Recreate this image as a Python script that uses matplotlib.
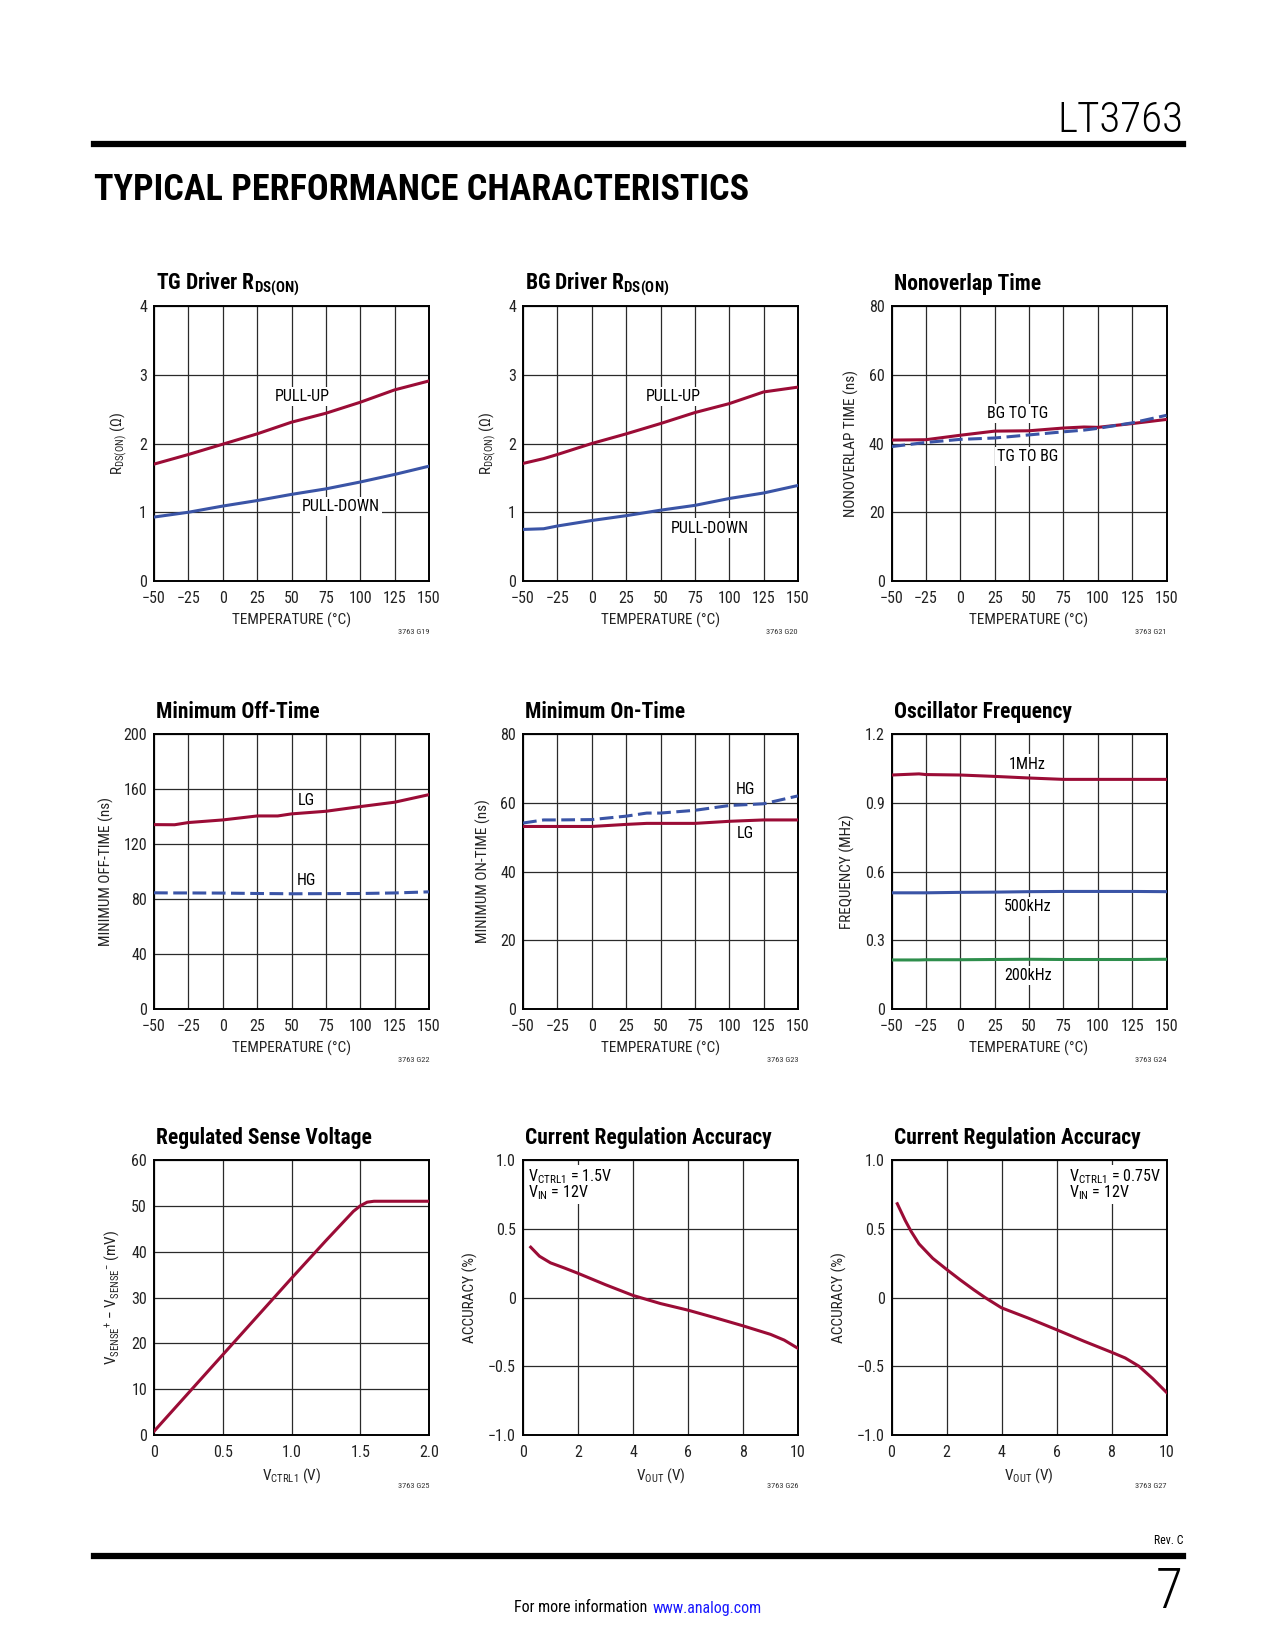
import matplotlib
matplotlib.use('Agg')
import matplotlib.pyplot as plt
from matplotlib.lines import Line2D
from matplotlib import font_manager

# datos (LT3763 pagina 7)

temp_tg = [-50, -25, 0, 25, 50, 75, 100, 125, 150]
tg_pullup = [1.70, 1.84, 1.99, 2.14, 2.31, 2.44, 2.60, 2.78, 2.91]
tg_pulldown = [0.93, 1.00, 1.09, 1.17, 1.26, 1.34, 1.44, 1.55, 1.67]

temp_bg = [-50, -35, -25, 0, 25, 50, 75, 100, 125, 150]
bg_pullup = [1.71, 1.78, 1.84, 2.00, 2.14, 2.29, 2.45, 2.58, 2.75, 2.82]
bg_pulldown = [0.75, 0.76, 0.80, 0.88, 0.95, 1.03, 1.10, 1.20, 1.28, 1.39]

temp_no = [-50, -25, 0, 25, 50, 75, 90, 100, 125, 150]
bg_to_tg = [41.0, 41.1, 42.4, 43.6, 43.7, 44.5, 44.8, 44.7, 45.8, 47.0]
tg_to_bg = [39.1, 40.3, 41.2, 41.6, 42.5, 43.4, 43.9, 44.4, 46.0, 48.2]

temp_off = [-50, -35, -25, 0, 25, 40, 50, 75, 100, 125, 150]
off_lg = [134.1, 134.0, 135.6, 137.5, 140.4, 140.4, 141.9, 143.8, 147.2, 150.4, 155.9]
off_hg = [84.5, 84.4, 84.4, 84.3, 84.0, 83.9, 83.8, 83.9, 84.0, 84.4, 85.2]

temp_on = [-50, -35, -25, 0, 25, 40, 50, 75, 100, 125, 150]
on_hg = [54.1, 55.0, 55.0, 55.1, 56.1, 57.0, 57.0, 57.8, 59.2, 59.7, 62.0]
on_lg = [53.1, 53.1, 53.1, 53.1, 53.7, 54.0, 54.0, 54.0, 54.6, 55.0, 55.0]

temp_osc = [-50, -30, -25, 0, 25, 50, 75, 100, 125, 150]
osc_1mhz = [1.021, 1.026, 1.023, 1.021, 1.015, 1.008, 1.002, 1.002, 1.002, 1.002]
osc_500k = [0.507, 0.507, 0.507, 0.509, 0.510, 0.512, 0.513, 0.513, 0.513, 0.512]
osc_200k = [0.214, 0.214, 0.215, 0.215, 0.216, 0.217, 0.216, 0.216, 0.216, 0.217]

vctrl = [0.0, 0.5, 1.0, 1.25, 1.4, 1.45, 1.5, 1.55, 1.6, 1.7, 2.0]
vsense = [0.8, 17.5, 34.2, 42.4, 47.2, 48.8, 50.0, 50.8, 51.0, 51.0, 51.0]

vout_a = [0.28, 0.6, 1.0, 1.5, 2, 3, 4, 5, 6, 7, 8, 9, 9.5, 10]
acc_a = [0.366, 0.30, 0.252, 0.215, 0.176, 0.093, 0.015, -0.044, -0.092, -0.148, -0.206, -0.268, -0.31, -0.37]

vout_b = [0.21, 0.5, 0.71, 1.0, 1.5, 2, 2.5, 3, 3.4, 4, 5, 6, 7, 8, 8.5, 9, 9.5, 10]
acc_b = [0.682, 0.56, 0.482, 0.39, 0.285, 0.205, 0.128, 0.055, 0.0, -0.075, -0.152, -0.234, -0.318, -0.398, -0.44, -0.50, -0.59, -0.69]

temp_ticks = [-50, -25, 0, 25, 50, 75, 100, 125, 150]
temp_labels = ['\u221250', '\u221225', '0', '25', '50', '75', '100', '125', '150']
acc_ticks = [-1.0, -0.5, 0, 0.5, 1.0]
acc_labels = ['\u22121.0', '\u22120.5', '0', '0.5', '1.0']

##############

# buscar una fuente angosta instalada
nombres = {f.name for f in font_manager.fontManager.ttflist}
FN = 'DejaVu Sans'
for cand in ['Liberation Sans Narrow', 'DejaVu Sans Condensed', 'Roboto Condensed',
             'Open Sans Condensed', 'Liberation Sans', 'Roboto']:
    if cand in nombres:
        FN = cand
        break

plt.rcParams['font.family'] = [FN, 'DejaVu Sans']
plt.rcParams['mathtext.fontset'] = 'custom'
plt.rcParams['mathtext.rm'] = FN
plt.rcParams['mathtext.bf'] = FN + ':bold'
plt.rcParams['mathtext.it'] = FN + ':italic'

RED = '#9b0c36'
BLUE = '#3a54a6'
GREEN = '#2e8e4c'
DASH = (4.5, 1.8)
TS = 11.5   # ticks
LS = 11     # etiquetas de ejes

fig = plt.figure(figsize=(12.75, 16.5), dpi=100)

col_x = [154 / 1275, 523 / 1275, 891.5 / 1275]
row_y = [1 - 581 / 1650, 1 - 1009 / 1650, 1 - 1435 / 1650]
W = 275 / 1275
H = 275 / 1650


def panel(col, row, title, xlabel, ylabel, xlim, ylim, xticks, xtl, yticks, ytl, code):
    ax = fig.add_axes([col_x[col], row_y[row], W, H])
    ax.set_xlim(xlim)
    ax.set_ylim(ylim)
    ax.set_xticks(xticks)
    ax.set_xticklabels(xtl)
    ax.set_yticks(yticks)
    ax.set_yticklabels(ytl)
    ax.tick_params(length=0, labelsize=TS, colors='#222222')
    ax.tick_params(axis='x', pad=7)
    ax.tick_params(axis='y', pad=5)
    ax.set_axisbelow(True)
    ax.grid(True, color='#2a2a2a', lw=0.9)
    for s in ax.spines.values():
        s.set_linewidth(1.4)
        s.set_color('black')
    ax.set_xlabel(xlabel, fontsize=LS, labelpad=5, color='#222222')
    ax.set_ylabel(ylabel, fontsize=LS, labelpad=7, color='#222222')
    ax.text(0.008, 1.08, title, transform=ax.transAxes, ha='left', va='center',
            fontsize=15.5, fontweight='bold')
    ax.text(1.0, -0.185, code, transform=ax.transAxes, ha='right', va='center',
            fontsize=6, color='#333333')
    return ax


def label(ax, x, y, s):
    ax.text(x, y, s, ha='center', va='center', fontsize=11.5, zorder=3,
            bbox=dict(fc='white', ec='none', pad=1.5))


# TG driver
ax = panel(0, 0, 'TG Driver R$_{\\mathbf{DS(ON)}}$', 'TEMPERATURE (\u00b0C)',
           'R$_{\\mathrm{DS(ON)}}$ (\u03a9)', (-50, 150), (0, 4),
           temp_ticks, temp_labels, [0, 1, 2, 3, 4], ['0', '1', '2', '3', '4'], '3763 G19')
ax.plot(temp_tg, tg_pullup, color=RED, lw=2.2, zorder=4)
ax.plot(temp_tg, tg_pulldown, color=BLUE, lw=2.2, zorder=4)
label(ax, 58, 2.68, 'PULL-UP')
label(ax, 86, 1.08, 'PULL-DOWN')

# BG driver
ax = panel(1, 0, 'BG Driver R$_{\\mathbf{DS(ON)}}$', 'TEMPERATURE (\u00b0C)',
           'R$_{\\mathrm{DS(ON)}}$ (\u03a9)', (-50, 150), (0, 4),
           temp_ticks, temp_labels, [0, 1, 2, 3, 4], ['0', '1', '2', '3', '4'], '3763 G20')
ax.plot(temp_bg, bg_pullup, color=RED, lw=2.2, zorder=4)
ax.plot(temp_bg, bg_pulldown, color=BLUE, lw=2.2, zorder=4)
label(ax, 59, 2.68, 'PULL-UP')
label(ax, 86, 0.77, 'PULL-DOWN')

# Nonoverlap
ax = panel(2, 0, 'Nonoverlap Time', 'TEMPERATURE (\u00b0C)', 'NONOVERLAP TIME (ns)',
           (-50, 150), (0, 80), temp_ticks, temp_labels,
           [0, 20, 40, 60, 80], ['0', '20', '40', '60', '80'], '3763 G21')
ax.plot(temp_no, bg_to_tg, color=RED, lw=2.2, zorder=4)
ax.plot(temp_no, tg_to_bg, color=BLUE, lw=2.2, dashes=DASH, zorder=5)
label(ax, 42, 48.7, 'BG TO TG')
label(ax, 49, 36.1, 'TG TO BG')

# Minimum off-time
ax = panel(0, 1, 'Minimum Off-Time', 'TEMPERATURE (\u00b0C)', 'MINIMUM OFF-TIME (ns)',
           (-50, 150), (0, 200), temp_ticks, temp_labels,
           [0, 40, 80, 120, 160, 200], ['0', '40', '80', '120', '160', '200'], '3763 G22')
ax.plot(temp_off, off_lg, color=RED, lw=2.2, zorder=4)
ax.plot(temp_off, off_hg, color=BLUE, lw=2.2, dashes=DASH, zorder=4)
label(ax, 61, 151.6, 'LG')
label(ax, 61, 93.5, 'HG')

# Minimum on-time
ax = panel(1, 1, 'Minimum On-Time', 'TEMPERATURE (\u00b0C)', 'MINIMUM ON-TIME (ns)',
           (-50, 150), (0, 80), temp_ticks, temp_labels,
           [0, 20, 40, 60, 80], ['0', '20', '40', '60', '80'], '3763 G23')
ax.plot(temp_on, on_lg, color=RED, lw=2.2, zorder=4)
ax.plot(temp_on, on_hg, color=BLUE, lw=2.2, dashes=DASH, zorder=5)
label(ax, 112, 63.8, 'HG')
label(ax, 112, 51.1, 'LG')

# Oscillator frequency
ax = panel(2, 1, 'Oscillator Frequency', 'TEMPERATURE (\u00b0C)', 'FREQUENCY (MHz)',
           (-50, 150), (0, 1.2), temp_ticks, temp_labels,
           [0, 0.3, 0.6, 0.9, 1.2], ['0', '0.3', '0.6', '0.9', '1.2'], '3763 G24')
ax.plot(temp_osc, osc_1mhz, color=RED, lw=2.2, zorder=4)
ax.plot(temp_osc, osc_500k, color=BLUE, lw=2.2, zorder=4)
ax.plot(temp_osc, osc_200k, color=GREEN, lw=2.2, zorder=4)
label(ax, 49, 1.069, '1MHz')
label(ax, 49, 0.446, '500kHz')
label(ax, 49, 0.146, '200kHz')

# Regulated sense voltage
ax = panel(0, 2, 'Regulated Sense Voltage', 'V$_{\\mathrm{CTRL1}}$ (V)',
           'V$_{\\mathrm{SENSE}}{}^{+}$ \u2212 V$_{\\mathrm{SENSE}}{}^{-}$ (mV)',
           (0, 2.0), (0, 60), [0, 0.5, 1.0, 1.5, 2.0], ['0', '0.5', '1.0', '1.5', '2.0'],
           [0, 10, 20, 30, 40, 50, 60], ['0', '10', '20', '30', '40', '50', '60'], '3763 G25')
ax.plot(vctrl, vsense, color=RED, lw=2.2, zorder=4)

# Current regulation accuracy 1.5V
ax = panel(1, 2, 'Current Regulation Accuracy', 'V$_{\\mathrm{OUT}}$ (V)', 'ACCURACY (%)',
           (0, 10), (-1, 1), [0, 2, 4, 6, 8, 10], ['0', '2', '4', '6', '8', '10'],
           acc_ticks, acc_labels, '3763 G26')
ax.plot(vout_a, acc_a, color=RED, lw=2.2, zorder=4)
ax.text(0.2, 0.95, 'V$_{\\mathrm{CTRL1}}$ = 1.5V\nV$_{\\mathrm{IN}}$ = 12V', ha='left', va='top',
        fontsize=11.5, linespacing=0.85, bbox=dict(fc='white', ec='none', pad=1.5), zorder=3)

# Current regulation accuracy 0.75V
ax = panel(2, 2, 'Current Regulation Accuracy', 'V$_{\\mathrm{OUT}}$ (V)', 'ACCURACY (%)',
           (0, 10), (-1, 1), [0, 2, 4, 6, 8, 10], ['0', '2', '4', '6', '8', '10'],
           acc_ticks, acc_labels, '3763 G27')
ax.plot(vout_b, acc_b, color=RED, lw=2.2, zorder=4)
ax.text(6.45, 0.95, 'V$_{\\mathrm{CTRL1}}$ = 0.75V\nV$_{\\mathrm{IN}}$ = 12V', ha='left', va='top',
        fontsize=11.5, linespacing=0.85, bbox=dict(fc='white', ec='none', pad=1.5), zorder=3)

# encabezado y pie
fig.text(1183 / 1275, 1 - 121 / 1650, 'LT3763', ha='right', va='center', fontsize=31,
         fontweight='light')
fig.add_artist(Line2D([94 / 1275, 1183 / 1275], [1 - 144 / 1650] * 2, lw=4.5, color='black'))
fig.text(94 / 1275, 1 - 190 / 1650, 'TYPICAL PERFORMANCE CHARACTERISTICS', ha='left',
         va='center', fontsize=26, fontweight='bold')
fig.add_artist(Line2D([94 / 1275, 1183 / 1275], [1 - 1556 / 1650] * 2, lw=4.5, color='black'))
fig.text(1183 / 1275, 1 - 1540 / 1650, 'Rev. C', ha='right', va='center', fontsize=8.5)
fig.text(1183 / 1275, 1 - 1592 / 1650, '7', ha='right', va='center', fontsize=40,
         fontweight='light')
fig.text(651 / 1275, 1 - 1608 / 1650, 'For more information ', ha='right', va='center',
         fontsize=11.5)
fig.text(653 / 1275, 1 - 1608 / 1650, 'www.analog.com', ha='left', va='center', fontsize=11.5,
         color='#1a1aff')

plt.savefig('out.png', dpi=100)
